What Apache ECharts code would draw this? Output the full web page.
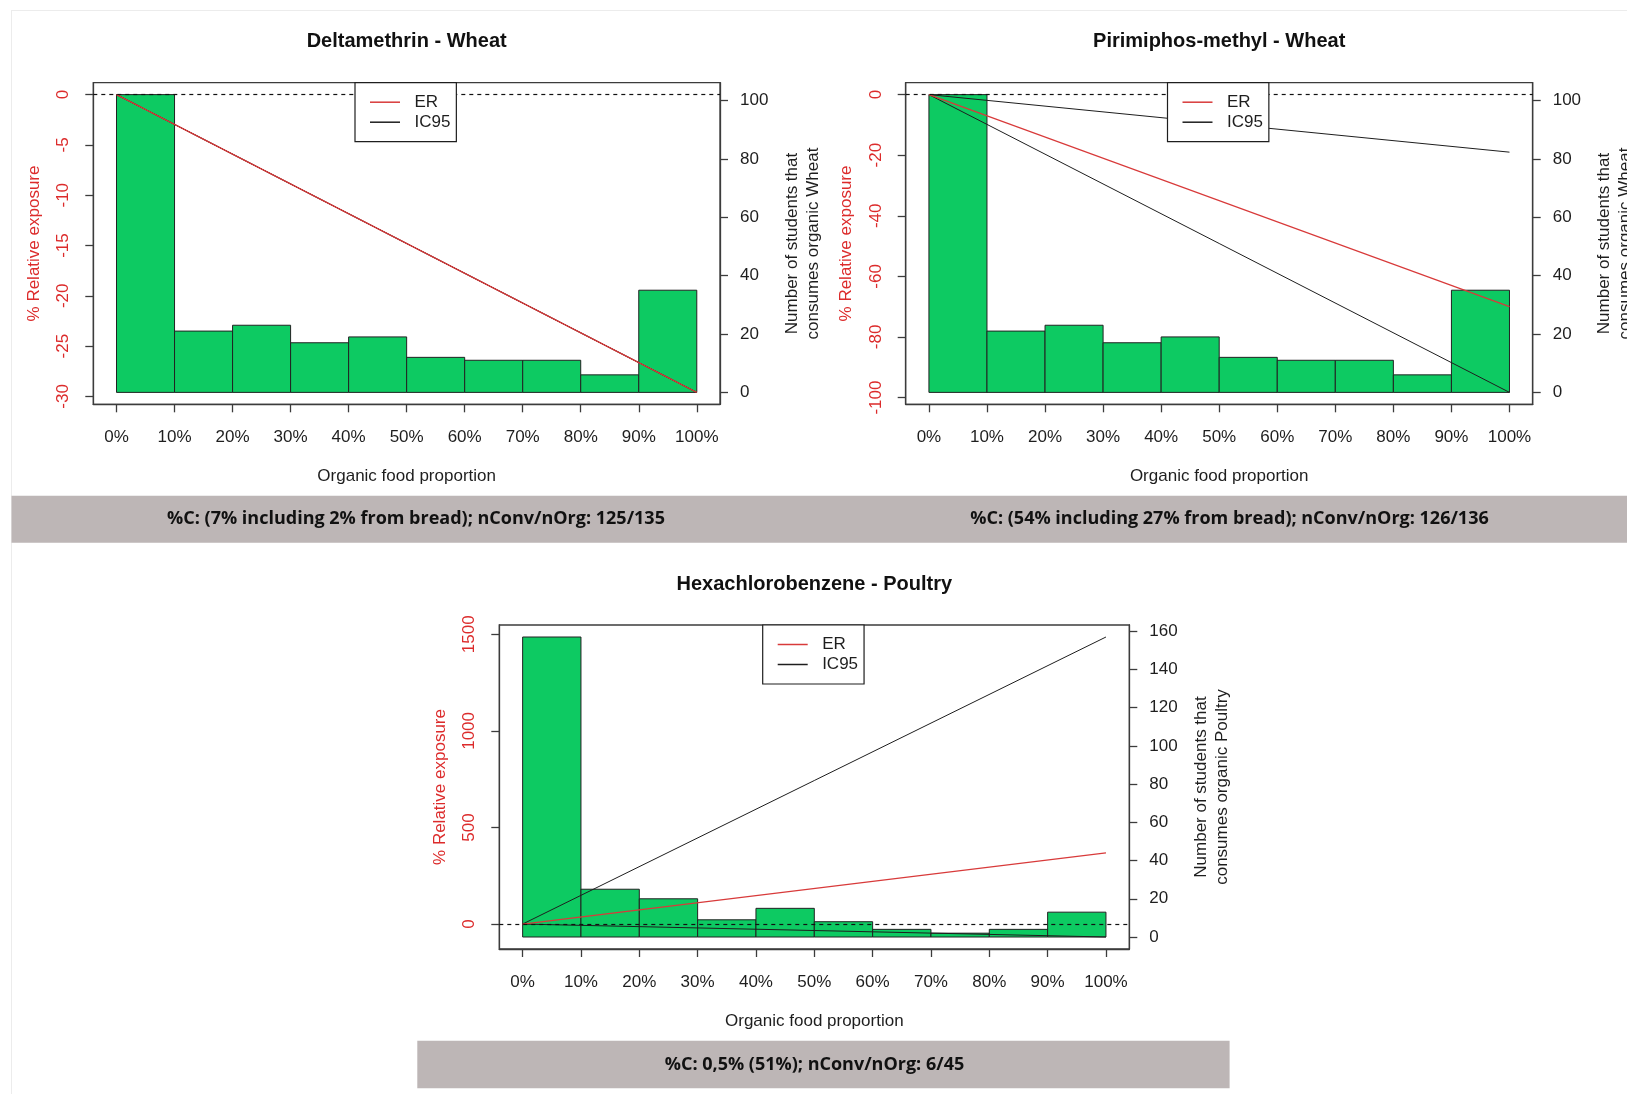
<!DOCTYPE html>
<html>
<head>
<meta charset="utf-8">
<script src="https://cdn.jsdelivr.net/npm/echarts@6/dist/echarts.min.js"></script>
<style>
html,body{margin:0;padding:0;background:#fff;}
#chart{width:1627px;height:1094px;}
</style>
</head>
<body>
<div id="chart"></div>
<script>
// ---------------- data ----------------
const xTickValues = [0, 10, 20, 30, 40, 50, 60, 70, 80, 90, 100];
const wheatStudents = [102, 21, 23, 17, 19, 12, 11, 11, 6, 35];
const poultryStudents = [157, 25, 20, 9, 15, 8, 4, 2, 4, 13];
const lineX = [0, 100];
const deltaER = [0, -29.6];
const deltaIC95Low = [0, -29.6];
const deltaIC95High = [0, -29.6];
const pirimER = [0, -70];
const pirimIC95Low = [0, -98.3];
const pirimIC95High = [0, -19];
const hcbER = [0, 368];
const hcbIC95Low = [0, -67];
const hcbIC95High = [0, 1486];
const leftTicksDelta = [0, -5, -10, -15, -20, -25, -30];
const leftTicksPirim = [0, -20, -40, -60, -80, -100];
const leftTicksHcb = [0, 500, 1000, 1500];
const rightTicksWheat = [0, 20, 40, 60, 80, 100];
const rightTicksPoultry = [0, 20, 40, 60, 80, 100, 120, 140, 160];
const chartTitles = ['Deltamethrin - Wheat', 'Pirimiphos-methyl - Wheat', 'Hexachlorobenzene - Poultry'];
const foods = ['Wheat', 'Wheat', 'Poultry'];
const bandTexts = [
  '%C: (7% including 2% from bread); nConv/nOrg: 125/135',
  '%C: (54% including 27% from bread); nConv/nOrg: 126/136',
  '%C: 0,5% (51%); nConv/nOrg: 6/45'
];

// ---------------- style / layout ----------------
const FONT = '"Liberation Sans", Arial, Helvetica, sans-serif';
const BAND_FONT = '"Open Sans", Lato, sans-serif';
const RED = '#d83a3a';
const LABEL_RED = '#dc2b2b';
const GREEN = '#0dca62';
const INK = '#1e1e1e';
const BOX = '#3c3c3c';

const charts = [
  {counts: wheatStudents, er: deltaER, lo: deltaIC95Low, hi: deltaIC95High, leftTicks: leftTicksDelta, rightTicks: rightTicksWheat,
   box: {left: 93.3, top: 82.7, width: 626.7, height: 321.6}, legendLeft: 355},
  {counts: wheatStudents, er: pirimER, lo: pirimIC95Low, hi: pirimIC95High, leftTicks: leftTicksPirim, rightTicks: rightTicksWheat,
   box: {left: 905.7, top: 82.7, width: 627, height: 321.6}, legendLeft: 1167.5},
  {counts: poultryStudents, er: hcbER, lo: hcbIC95Low, hi: hcbIC95High, leftTicks: leftTicksHcb, rightTicks: rightTicksPoultry,
   box: {left: 499.3, top: 625, width: 630, height: 324}, legendLeft: 762.7}
];

const zip = (xs, ys) => xs.map((x, i) => [x, ys[i]]);

const grid = [], xAxis = [], yAxis = [], series = [], legend = [], graphic = [];

// faint frame of the figure
graphic.push({type: 'line', silent: true, shape: {x1: 11, y1: 10.5, x2: 1627, y2: 10.5}, style: {stroke: '#ececec', lineWidth: 1}});
graphic.push({type: 'line', silent: true, shape: {x1: 11.5, y1: 10, x2: 11.5, y2: 1094}, style: {stroke: '#ececec', lineWidth: 1}});

// grey bands
graphic.push({type: 'rect', silent: true, shape: {x: 11.5, y: 495.7, width: 1615.5, height: 47}, style: {fill: '#bdb6b6'}});
graphic.push({type: 'rect', silent: true, shape: {x: 417.3, y: 1040.7, width: 812.3, height: 47.6}, style: {fill: '#bdb6b6'}});
const bandPos = [[416, 519], [1229.5, 519], [814.5, 1064.5]];
bandTexts.forEach((t, i) => {
  graphic.push({type: 'text', silent: true, x: bandPos[i][0], y: bandPos[i][1],
    style: {text: t, fill: '#111', font: 'bold 18px ' + BAND_FONT, align: 'center', verticalAlign: 'middle'}});
});

const axisLine = {show: true, onZero: false, lineStyle: {color: BOX, width: 1.3}};
const tickStyle = {color: BOX, width: 1.3};

charts.forEach((c, i) => {
  const b = c.box;
  const cx = b.left + b.width / 2;
  const cy = b.top + b.height / 2;
  grid.push({left: b.left, top: b.top, width: b.width, height: b.height, show: true,
    borderColor: BOX, borderWidth: 1.3, backgroundColor: 'transparent', outerBoundsMode: 'none', containLabel: false});

  xAxis.push({gridIndex: i, type: 'value', min: -4, max: 104, position: 'bottom',
    axisLine: axisLine, splitLine: {show: false},
    axisTick: {show: true, inside: false, length: 8, customValues: xTickValues, lineStyle: tickStyle},
    axisLabel: {customValues: xTickValues, formatter: v => v + '%', margin: 25, fontSize: 17, color: INK, fontFamily: FONT}});

  const allLine = c.er.concat(c.lo, c.hi);
  const lmin = Math.min(...allLine), lmax = Math.max(...allLine), lr = lmax - lmin;
  yAxis.push({gridIndex: i, type: 'value', position: 'left', min: lmin - 0.04 * lr, max: lmax + 0.04 * lr,
    axisLine: axisLine, splitLine: {show: false},
    axisTick: {show: true, inside: false, length: 8, customValues: c.leftTicks, lineStyle: tickStyle},
    axisLabel: {customValues: c.leftTicks, formatter: v => String(v), rotate: 90, margin: 21, fontSize: 17, color: LABEL_RED, fontFamily: FONT}});
  const cmax = Math.max(...c.counts);
  yAxis.push({gridIndex: i, type: 'value', position: 'right', min: -0.04 * cmax, max: 1.04 * cmax,
    axisLine: axisLine, splitLine: {show: false},
    axisTick: {show: true, inside: false, length: 8, customValues: c.rightTicks, lineStyle: tickStyle},
    axisLabel: {customValues: c.rightTicks, formatter: v => String(v), margin: 20, fontSize: 17, color: INK, fontFamily: FONT}});

  series.push({type: 'custom', name: 'students' + i, xAxisIndex: i, yAxisIndex: 2 * i + 1, silent: true, z: 1,
    data: c.counts.map((v, k) => [xTickValues[k], xTickValues[k + 1], v]),
    encode: {x: [0, 1], y: 2},
    renderItem: function (params, api) {
      const p0 = api.coord([api.value(0), api.value(2)]);
      const p1 = api.coord([api.value(1), 0]);
      return {type: 'rect', shape: {x: p0[0], y: p0[1], width: p1[0] - p0[0], height: p1[1] - p0[1]},
        style: {fill: GREEN, stroke: '#222', lineWidth: 1}};
    }});
  series.push({type: 'line', name: 'IC95', xAxisIndex: i, yAxisIndex: 2 * i, data: zip(lineX, c.lo), symbol: 'none',
    color: INK, lineStyle: {color: INK, width: 1}, z: 3, silent: true});
  series.push({type: 'line', name: 'IC95', xAxisIndex: i, yAxisIndex: 2 * i, data: zip(lineX, c.hi), symbol: 'none',
    color: INK, lineStyle: {color: INK, width: 1}, z: 3, silent: true});
  series.push({type: 'line', name: 'ER', xAxisIndex: i, yAxisIndex: 2 * i, data: zip(lineX, c.er), symbol: 'none',
    color: RED, lineStyle: {color: RED, width: 1.2}, z: 4, silent: true,
    markLine: {silent: true, symbol: 'none', label: {show: false}, animation: false,
      lineStyle: {color: '#111', width: 1.2, type: [4, 4]}, data: [{yAxis: 0}]}});

  legend.push({orient: 'vertical', left: c.legendLeft, top: b.top, data: ['ER', 'IC95'], selectedMode: false,
    backgroundColor: '#fff', borderColor: INK, borderWidth: 1.2, borderRadius: 0,
    padding: [11, 6, 11, 15], itemGap: 3, itemWidth: 30, itemHeight: 1.5, icon: 'rect', z: 10,
    formatter: n => '  ' + n,
    textStyle: {fontSize: 17, fontFamily: FONT, color: INK, lineHeight: 17}});

  // chart title
  graphic.push({type: 'text', silent: true, x: cx, y: b.top - 41,
    style: {text: chartTitles[i], fill: '#111', font: 'bold 20px ' + FONT, align: 'center', verticalAlign: 'middle'}});
  // x axis title
  graphic.push({type: 'text', silent: true, x: cx, y: b.top + b.height + 72,
    style: {text: 'Organic food proportion', fill: INK, font: '17px ' + FONT, align: 'center', verticalAlign: 'middle'}});
  // left axis title
  graphic.push({type: 'text', silent: true, x: b.left - 59, y: cy, rotation: Math.PI / 2,
    style: {text: '% Relative exposure', fill: LABEL_RED, font: '17px ' + FONT, align: 'center', verticalAlign: 'middle'}});
  // right axis title
  graphic.push({type: 'text', silent: true, x: b.left + b.width + 82.4, y: cy, rotation: Math.PI / 2,
    style: {text: 'Number of students that\nconsumes organic ' + foods[i], fill: INK, font: '17px ' + FONT,
      lineHeight: 21, align: 'center', verticalAlign: 'middle'}});
});

const chart = echarts.init(document.getElementById('chart'), null, {renderer: 'canvas'});
chart.setOption({
  animation: false,
  backgroundColor: '#fff',
  grid, xAxis, yAxis, series, legend, graphic
});
</script>
</body>
</html>
